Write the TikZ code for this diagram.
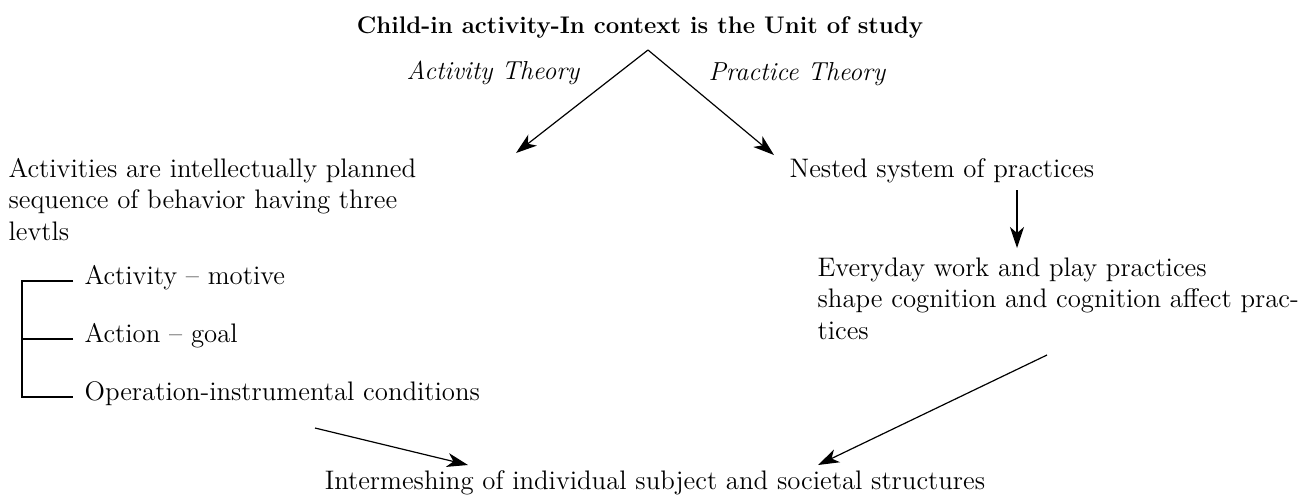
\documentclass[tikz,border=0pt]{standalone}
\usepackage{tikz}
\usetikzlibrary{positioning}
\usetikzlibrary{arrows.meta}
\tikzset{plain text/.style={inner sep=0pt,font=\fontsize{13.4}{15.75}\selectfont,align=left},
	theory label/.style={plain text,font=\fontsize{13}{15.75}\selectfont\itshape},
	level item/.style={plain text,inner xsep=5.5pt,text height=7pt,text depth=4pt},}

\begin{document}
\begin{tikzpicture}[x=0.5pt, y=-0.5pt, ->, >={Stealth[length=10.5pt,width=7pt,inset=3pt]}, semithick]
	\useasboundingbox (0,0) rectangle (1308,495);

	% unit of study and the two theories
	\node[plain text, anchor=base, font=\fontsize{12}{15}\selectfont\bfseries] (unit) at (640,33) {Child-in activity-In context is the Unit of study};
	\node[theory label, anchor=base] (atheory) at (493,79) {Activity Theory};
	\node[theory label, anchor=base] (ptheory) at (797,80) {Practice Theory};
	\coordinate (apex) at (648,50);
	\coordinate (aend) at (516,153);
	\coordinate (pend) at (774,155);

	% left branch (base anchor sits on the last line)
	\node[plain text, anchor=base west] (activities) at (8,240) {Activities are intellectually planned\\sequence of behavior having three\\levtls};
	\node[level item, anchor=base west] (lvact) at (73,284) {Activity -- motive};
	\node[level item, anchor=base west] (lvgoal) at (73,342) {Action -- goal};
	\node[level item, anchor=base west] (lvop) at (73,400) {Operation-instrumental conditions};
	\coordinate (bar) at (22,0);

	% right branch
	\node[plain text, anchor=base west] (nested) at (789,177) {Nested system of practices};
	\node[plain text, anchor=base west] (everyday) at (817,339) {Everyday work and play practices\\shape cognition and cognition affect prac-\\tices};
	\coordinate (ntop) at (1017,190);
	\coordinate (nbot) at (1017,248);

	% where both meet
	\node[plain text, anchor=base] (mesh) at (655,489) {Intermeshing of individual subject and societal structures};
	\coordinate (lstart) at (315,428);
	\coordinate (lend) at (468,465);
	\coordinate (rstart) at (1047,355);
	\coordinate (rend) at (818,465);

	\path
	(apex) edge (aend)
	(apex) edge (pend)
	(ntop) edge (nbot)
	(lstart) edge (lend)
	(rstart) edge (rend);

	\draw[-] (lvact.west) -| (bar |- lvop.west) -- (lvop.west);
	\draw[-] (lvgoal.west) -- (bar |- lvgoal.west);
\end{tikzpicture}
\end{document}
